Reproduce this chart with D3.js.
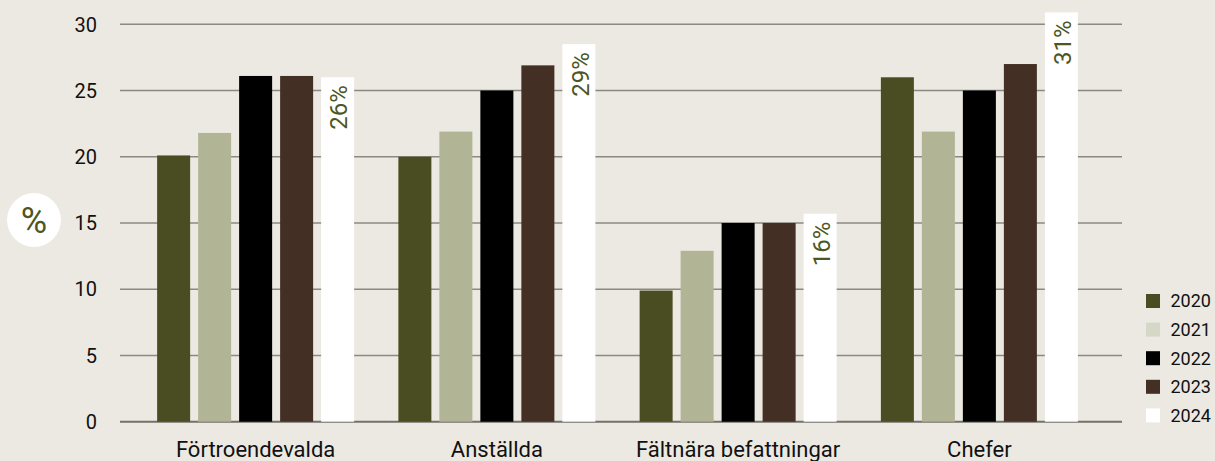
<!DOCTYPE html>
<html>
<head>
<meta charset="utf-8">
<script src="https://cdn.jsdelivr.net/npm/d3@7"></script>
<style>
  html, body { margin: 0; padding: 0; background: #ece9e2; }
  svg { display: block; font-family: Roboto, "Noto Sans", sans-serif; }
</style>
</head>
<body>
<div id="chart"></div>
<script>
// Data
const categories = ['Förtroendevalda', 'Anställda', 'Fältnära befattningar', 'Chefer'];
const years = ['2020', '2021', '2022', '2023', '2024'];
const v2020 = [20.1, 20.0, 9.9, 26.0];
const v2021 = [21.8, 21.9, 12.9, 21.9];
const v2022 = [26.1, 25.0, 15.0, 25.0];
const v2023 = [26.1, 26.9, 15.0, 27.0];
const v2024 = [26.0, 28.5, 15.7, 30.9];
const labels2024 = ['26%', '29%', '16%', '31%'];
const yTicks = [0, 5, 10, 15, 20, 25, 30];

const barColors = ['#4a4d22', '#b1b595', '#000000', '#432f23', '#ffffff'];
const legendColors = ['#4a4d22', '#d6d8c7', '#000000', '#432f23', '#ffffff'];

const series = [v2020, v2021, v2022, v2023, v2024];

const W = 1215, H = 461;
const svg = d3.select('#chart').append('svg')
  .attr('width', W).attr('height', H);

svg.append('rect').attr('width', W).attr('height', H).attr('fill', '#ece9e2');

/* ── scales ── */
const y = d3.scaleLinear().domain([0, 30]).range([421.7, 24.3]);
const x0 = d3.scaleBand().domain(categories).range([135, 1100]).padding(0);
const x1 = d3.scaleBand().domain(years).range([0, 197]).paddingInner(0.195).paddingOuter(0);

/* ── grid ── */
svg.append('g').selectAll('line').data(yTicks).join('line')
  .attr('x1', 120).attr('x2', 1122)
  .attr('y1', d => y(d)).attr('y2', d => y(d))
  .attr('stroke', d => d === 0 ? '#74716b' : '#8c8983')
  .attr('stroke-width', d => d === 0 ? 2 : 1.6);

svg.append('g').selectAll('text').data(yTicks).join('text')
  .attr('x', 97).attr('y', d => y(d))
  .attr('dy', '0.36em')
  .attr('text-anchor', 'end')
  .attr('font-size', 20)
  .attr('fill', '#111')
  .text(d => d);

/* ── bars ── */
const groups = svg.append('g').selectAll('g').data(categories).join('g')
  .attr('transform', d => `translate(${x0(d) + x0.bandwidth() / 2 - 98.5},0)`);

groups.selectAll('rect')
  .data((c, ci) => years.map((yr, si) => ({ yr, si, v: series[si][ci] })))
  .join('rect')
  .attr('x', d => x1(d.yr))
  .attr('width', x1.bandwidth())
  .attr('y', d => y(d.v))
  .attr('height', d => y(0) - y(d.v))
  .attr('fill', d => barColors[d.si]);

// value labels inside the 2024 bar
groups.append('text')
  .attr('transform', (c, ci) =>
    `translate(${x1('2024') + x1.bandwidth() / 2 + 1},${y(v2024[ci]) + 8}) rotate(-90)`)
  .attr('text-anchor', 'end')
  .attr('dy', '0.36em')
  .attr('font-size', 24)
  .attr('fill', '#4d5623')
  .text((c, ci) => labels2024[ci]);

/* ── category labels ── */
svg.append('g').selectAll('text').data(categories).join('text')
  .attr('x', d => x0(d) + x0.bandwidth() / 2)
  .attr('y', 457)
  .attr('text-anchor', 'middle')
  .attr('font-size', 22)
  .attr('fill', '#111')
  .text(d => d);

/* ── % unit badge ── */
svg.append('circle').attr('cx', 34).attr('cy', 220).attr('r', 27).attr('fill', '#fff');
svg.append('text')
  .attr('x', 34).attr('y', 220).attr('dy', '0.36em')
  .attr('text-anchor', 'middle')
  .attr('font-size', 36)
  .attr('fill', '#4d5623')
  .text('%');

/* ── legend ── */
const leg = svg.append('g').attr('transform', 'translate(1146,301)');
const li = leg.selectAll('g').data(years).join('g')
  .attr('transform', (d, i) => `translate(0,${i * 28.6})`);
li.append('rect')
  .attr('y', -7).attr('width', 14).attr('height', 14)
  .attr('fill', (d, i) => legendColors[i]);
li.append('text')
  .attr('x', 24.5).attr('dy', '0.36em')
  .attr('font-size', 18)
  .attr('fill', '#111')
  .text(d => d);
</script>
</body>
</html>
